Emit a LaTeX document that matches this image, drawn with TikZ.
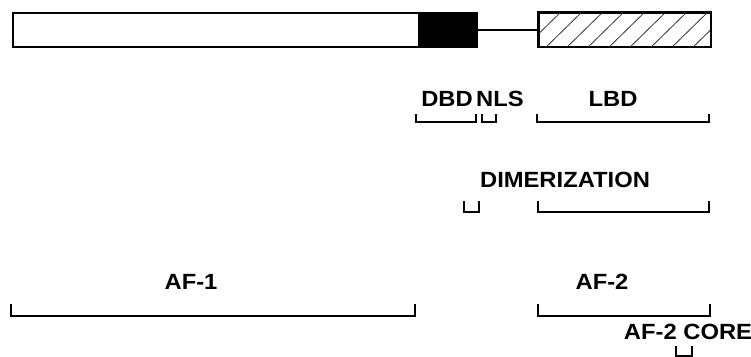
\documentclass[tikz,border=0pt]{standalone}
\usepackage{fontspec}
\setmainfont{Liberation Sans}[FakeStretch=1.08]
\tikzset{
  lbl/.style={font=\bfseries\fontsize{22}{24}\selectfont, inner sep=0pt, anchor=base},
  brk/.style={line width=1.8pt, line cap=butt},
  boxline/.style={line width=1.6pt}
}
\begin{document}
\begin{tikzpicture}[x=1pt,y=-1pt]
\useasboundingbox (0,0) rectangle (751,356);
% protein bar
\node[boxline, draw, fill=white, minimum width=406pt, minimum height=34pt, inner sep=0pt, anchor=north west] (nterm) at (12,12) {};
\node[boxline, draw, fill=black, minimum width=58pt, minimum height=34pt, inner sep=0pt, anchor=north west] (dbdbox) at (418,12) {};
\node[boxline, draw, minimum width=172pt, minimum height=34pt, inner sep=0pt, anchor=north west] (lbdbox) at (538,12) {};
\begin{scope}
  \clip (538,12) rectangle (710,46);
  \foreach \i in {0,...,9} {
    \draw[line width=0.8pt, black!80] (520+\i*21,52) -- (565+\i*21,8);
  }
\end{scope}
\draw[boxline] (lbdbox.north west) rectangle (lbdbox.south east);
\draw[boxline] (dbdbox.east) -- (lbdbox.west);
% labels
\node[lbl] (tdbd) at (447,106) {DBD};
\node[lbl] (tnls) at (500,106) {NLS};
\node[lbl] (tlbd) at (613,106) {LBD};
\node[lbl] (tdim) at (565,187) {DIMERIZATION};
\node[lbl] (taf1) at (191,289) {AF-1};
\node[lbl] (taf2) at (602,289) {AF-2};
\node[lbl] (tcore) at (688,339) {AF-2 CORE};
% brackets
\draw[brk] (416,114) -- (416,122) -- (476,122) -- (476,114);
\draw[brk] (482,114) -- (482,122) -- (496,122) -- (496,114);
\draw[brk] (537,114) -- (537,122) -- (709,122) -- (709,114);
\draw[brk] (464,201) -- (464,212) -- (479,212) -- (479,201);
\draw[brk] (538,201) -- (538,212) -- (709,212) -- (709,201);
\draw[brk] (11,304) -- (11,316) -- (415,316) -- (415,304);
\draw[brk] (538,304) -- (538,316) -- (710,316) -- (710,304);
\draw[brk] (676,346) -- (676,356) -- (692,356) -- (692,346);
\end{tikzpicture}
\end{document}
